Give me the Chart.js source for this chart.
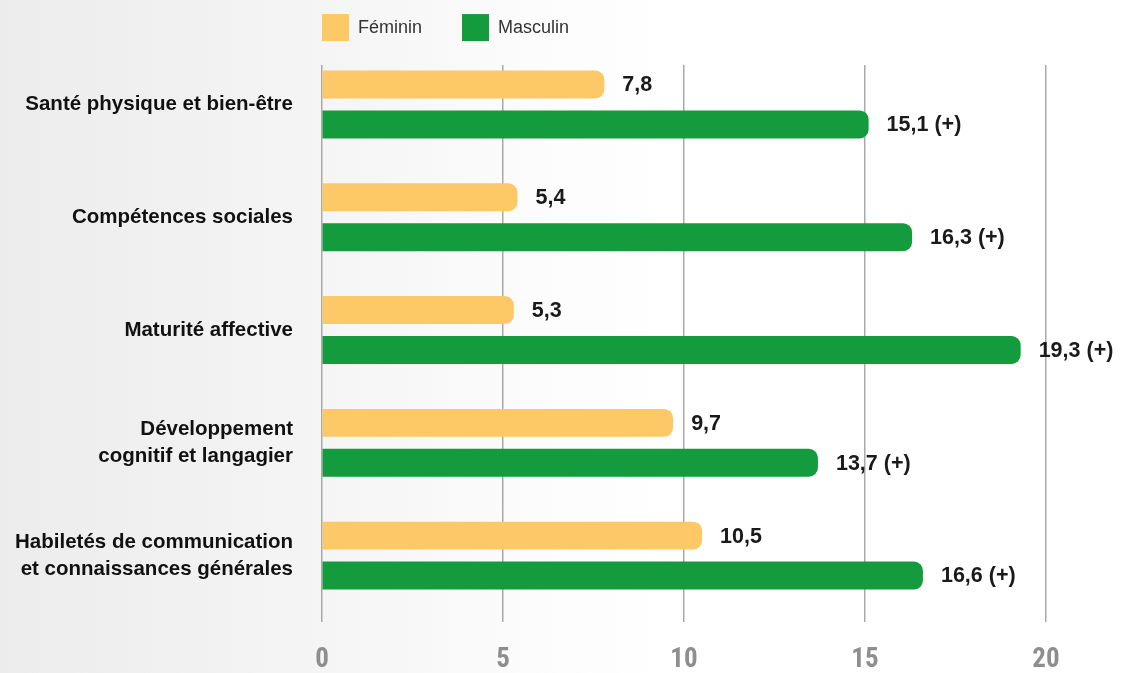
<!DOCTYPE html>
<html>
<head>
<meta charset="utf-8">
<script src="https://cdn.jsdelivr.net/npm/chart.js@4"></script>
<style>
  html, body { margin: 0; padding: 0; }
  body {
    width: 1123px; height: 673px; overflow: hidden;
    background: linear-gradient(90deg, #ececec 0%, #f2f2f2 20%, #f6f6f6 32%, #fbfbfb 45%, #ffffff 60%, #ffffff 100%);
  }
  #wrap { position: relative; width: 1123px; height: 673px; }
</style>
</head>
<body>
<div id="wrap"><canvas id="myBarGraph"></canvas></div>
<script>
// categories (multi-line labels as arrays)
var categories = [
  "Santé physique et bien-être",
  "Compétences sociales",
  "Maturité affective",
  ["Développement", "cognitif et langagier"],
  ["Habiletés de communication", "et connaissances générales"]
];

var seriesNames = ["Féminin", "Masculin"];

// values
var valuesFeminin  = [7.8, 5.4, 5.3, 9.7, 10.5];
var valuesMasculin = [15.1, 16.3, 19.3, 13.7, 16.6];

// significance markers shown after the masculine values
var markersFeminin  = ["", "", "", "", ""];
var markersMasculin = [" (+)", " (+)", " (+)", " (+)", " (+)"];

var xTicks = [0, 5, 10, 15, 20];

var colorFeminin = "#fdc866";
var colorMasculin = "#139b3d";
var gridColor = "#a9a9a9";

var legendPad = 40;

function fmt(v) {
  return v.toFixed(1).replace(".", ",");
}

//vertical grid lines, from a little below the top of the plot down past the axis
var gridLines = {
  id: "gridLines",
  beforeDatasetsDraw: function(chart) {
    var ctx = chart.ctx;
    var x = chart.scales.x;
    var area = chart.chartArea;
    ctx.save();
    ctx.strokeStyle = gridColor;
    ctx.lineWidth = 1.5;
    x.ticks.forEach(function(t) {
      var px = Math.round(x.getPixelForValue(t.value) - 0.75) + 0.75;
      ctx.beginPath();
      ctx.moveTo(px, area.top + 17);
      ctx.lineTo(px, area.bottom + 10);
      ctx.stroke();
    });
    ctx.restore();
  }
};

//plugin that writes the value next to the end of each bar
var valueLabels = {
  id: "valueLabels",
  afterDatasetsDraw: function(chart) {
    var ctx = chart.ctx;
    var markers = [markersFeminin, markersMasculin];
    ctx.save();
    ctx.font = "bold 21.5px 'Liberation Sans', Arial, sans-serif";
    ctx.fillStyle = "#1a1a1a";
    ctx.textAlign = "left";
    ctx.textBaseline = "middle";
    chart.data.datasets.forEach(function(ds, di) {
      var meta = chart.getDatasetMeta(di);
      meta.data.forEach(function(bar, i) {
        ctx.fillText(fmt(ds.data[i]) + markers[di][i], bar.x + 18, bar.y + 1);
      });
    });
    ctx.restore();
  }
};

//move the legend so it starts at the plot's left edge
var legendShift = {
  id: "legendShift",
  afterLayout: function(chart) {
    chart.legend.left -= legendPad;
    chart.legend.top -= (legendPad - 8);
  }
};

var ctx = document.getElementById("myBarGraph");
var myBarGraph = new Chart(ctx, {
  type: "bar",
  data: {
    labels: categories,
    datasets: [{
        label: seriesNames[0],
        backgroundColor: colorFeminin,
        borderColor: colorFeminin,
        data: valuesFeminin
      },
      {
        label: seriesNames[1],
        backgroundColor: colorMasculin,
        borderColor: colorMasculin,
        data: valuesMasculin
      }
    ]
  },
  options: {
    indexAxis: "y",
    responsive: true,
    maintainAspectRatio: false,
    animation: false,
    categoryPercentage: 0.708,
    barPercentage: 0.7,
    borderRadius: 9,
    borderSkipped: "start",
    layout: {
      padding: { left: 0, right: 77, top: 0, bottom: 0 }
    },
    plugins: {
      tooltip: { enabled: false },
      legend: {
        position: "top",
        align: "start",
        fullSize: false,
        maxHeight: 42,
        labels: {
          boxWidth: 27,
          boxHeight: 27,
          padding: legendPad,
          color: "#333333",
          font: { family: "'Liberation Sans', Arial, sans-serif", size: 18 }
        }
      }
    },
    scales: {
      x: {
        min: 0,
        max: 20,
        afterBuildTicks: function(scale) {
          scale.ticks = xTicks.map(function(v) { return { value: v }; });
        },
        afterFit: function(scale) {
          scale.height = 61;
        },
        grid: {
          color: "rgba(0,0,0,0)",
          tickLength: 10,
          drawTicks: true,
          drawOnChartArea: false
        },
        border: { display: false },
        ticks: {
          padding: 22,
          color: "#8e8e8e",
          font: { family: "'Liberation Sans Narrow', 'Roboto Condensed', Roboto, sans-serif", size: 27, weight: "bold" }
        }
      },
      y: {
        grid: { display: false },
        border: { display: false },
        ticks: {
          padding: 21,
          color: "#111111",
          font: { family: "'Liberation Sans', Arial, sans-serif", size: 20.5, weight: "bold", lineHeight: 1.32 }
        },
        afterFit: function(scale) {
          scale.width = 322;
        }
      }
    }
  },
  plugins: [gridLines, valueLabels, legendShift]
});
</script>
</body>
</html>
